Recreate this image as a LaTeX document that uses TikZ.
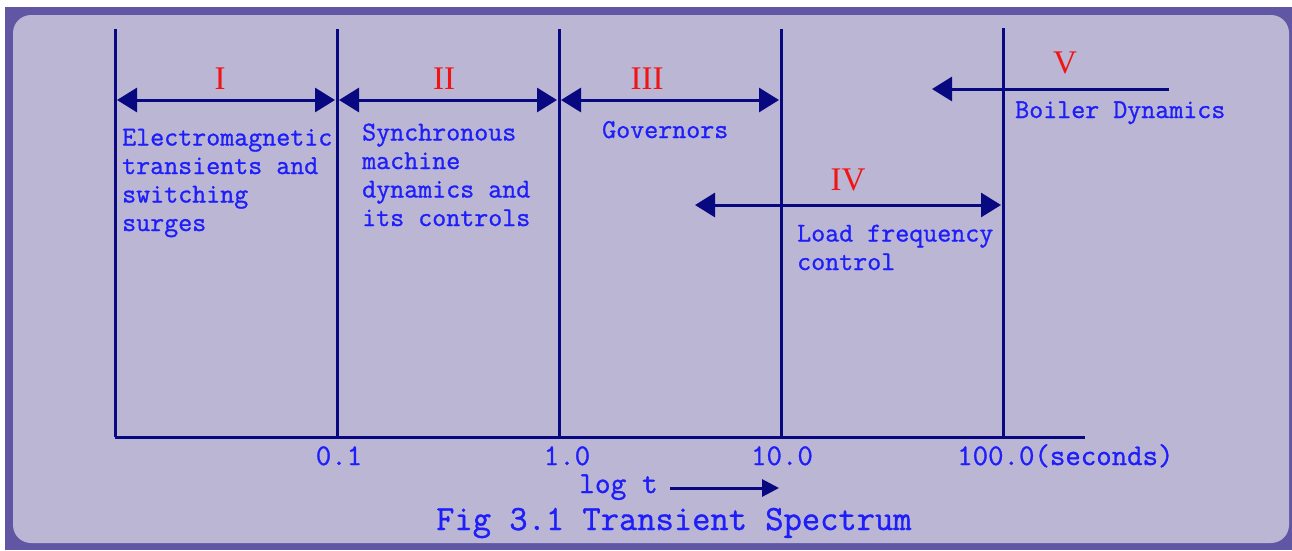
\documentclass[tikz,border=0pt]{standalone}
\usepackage{fontspec}
\newfontfamily\romanfont{Liberation Serif}
\newfontfamily\labelfont{Latin Modern Mono}[FakeBold=1]
\usetikzlibrary{arrows.meta}
\definecolor{framepurple}{RGB}{96,86,164}
\definecolor{panel}{RGB}{187,182,212}
\definecolor{navy}{RGB}{8,8,128}
\definecolor{txtblue}{RGB}{30,30,250}
\definecolor{numred}{RGB}{240,20,20}
\begin{document}
\begin{tikzpicture}[x=1pt,y=-1pt,
  axisline/.style={draw=navy,line width=3pt},
  span/.style={draw=navy,line width=3pt,{Triangle[length=20pt,width=24pt]}-{Triangle[length=20pt,width=24pt]}},
  leftspan/.style={draw=navy,line width=3pt,{Triangle[length=20pt,width=24pt]}-},
  smallarrow/.style={draw=navy,line width=3pt,-{Triangle[length=17pt,width=17pt]}},
  desc/.style={inner sep=0pt,anchor=base west,align=left,text=txtblue,font=\labelfont\fontsize{27.2}{28.5}\selectfont},
  ticklabel/.style={inner sep=0pt,anchor=base,text=txtblue,font=\labelfont\fontsize{30}{30}\selectfont},
  numeral/.style={inner sep=0pt,anchor=base,text=numred,font=\romanfont\fontsize{33}{33}\selectfont},
]
\useasboundingbox (0,0) rectangle (1292,550);
\fill[white] (0,0) rectangle (1292,550);
\fill[framepurple] (5,7) rectangle (1292,550);
\fill[panel,rounded corners=18pt] (13,15) rectangle (1289,543);

% grid lines
\coordinate (b0) at (115,437); \coordinate (t0) at (115,29);
\coordinate (b1) at (337,437); \coordinate (t1) at (337,29);
\coordinate (b2) at (559,437); \coordinate (t2) at (559,29);
\coordinate (b3) at (781,437); \coordinate (t3) at (781,29);
\coordinate (b4) at (1003,437); \coordinate (t4) at (1003,28);
\coordinate (axend) at (1085,437);
\draw[axisline] (t0) -- (b0);
\draw[axisline] (t1) -- (b1);
\draw[axisline] (t2) -- (b2);
\draw[axisline] (t3) -- (b3);
\draw[axisline] (t4) -- (b4);
\draw[axisline] (b0) -- (axend);

% span arrows
\coordinate (a1l) at (117,100); \coordinate (a1r) at (335,100);
\coordinate (a2l) at (339,100); \coordinate (a2r) at (557,100);
\coordinate (a3l) at (561,100); \coordinate (a3r) at (779,100);
\coordinate (a4l) at (695,205); \coordinate (a4r) at (1001,205);
\coordinate (a5l) at (932,89);  \coordinate (a5r) at (1169,89);
\draw[span] (a1l) -- (a1r);
\draw[span] (a2l) -- (a2r);
\draw[span] (a3l) -- (a3r);
\draw[span] (a4l) -- (a4r);
\draw[leftspan] (a5l) -- (a5r);

% numerals
\node[numeral] (n1) at (220,89) {I};
\node[numeral] (n2) at (444,89) {II};
\node[numeral] (n3) at (647,89) {III};
\node[numeral] (n4) at (848,190) {IV};
\node[numeral] (n5) at (1065,73) {V};

% descriptions (base anchor = baseline of last line)
\node[desc] (d1) at (122,231) {Electromagnetic\\transients and\\switching\\surges};
\node[desc] (d2) at (362,226) {Synchronous\\machine\\dynamics and\\its controls};
\node[desc] (d3) at (602,138) {Governors};
\node[desc] (d4) at (797,270) {Load frequency\\control};
\node[desc] (d5) at (1015,118) {Boiler Dynamics};

% tick labels
\node[ticklabel] (l1) at (339,465) {0.1};
\node[ticklabel] (l2) at (567,465) {1.0};
\node[ticklabel] (l3) at (782,465) {10.0};
\node[ticklabel,anchor=base west] (l4) at (957,465) {100.0(seconds)};

% log t
\node[inner sep=0pt,anchor=base west,text=txtblue,font=\labelfont\fontsize{30.5}{32}\selectfont] (logt) at (579,493) {log t};
\coordinate (logtail) at (670,488);
\coordinate (logtip) at (779,488);
\draw[smallarrow] (logtail) -- (logtip);

% caption
\node[inner sep=0pt,anchor=base west,text=txtblue,font=\labelfont\fontsize{35.5}{36}\selectfont] (cap) at (436,530) {Fig 3.1 Transient Spectrum};
\end{tikzpicture}
\end{document}
